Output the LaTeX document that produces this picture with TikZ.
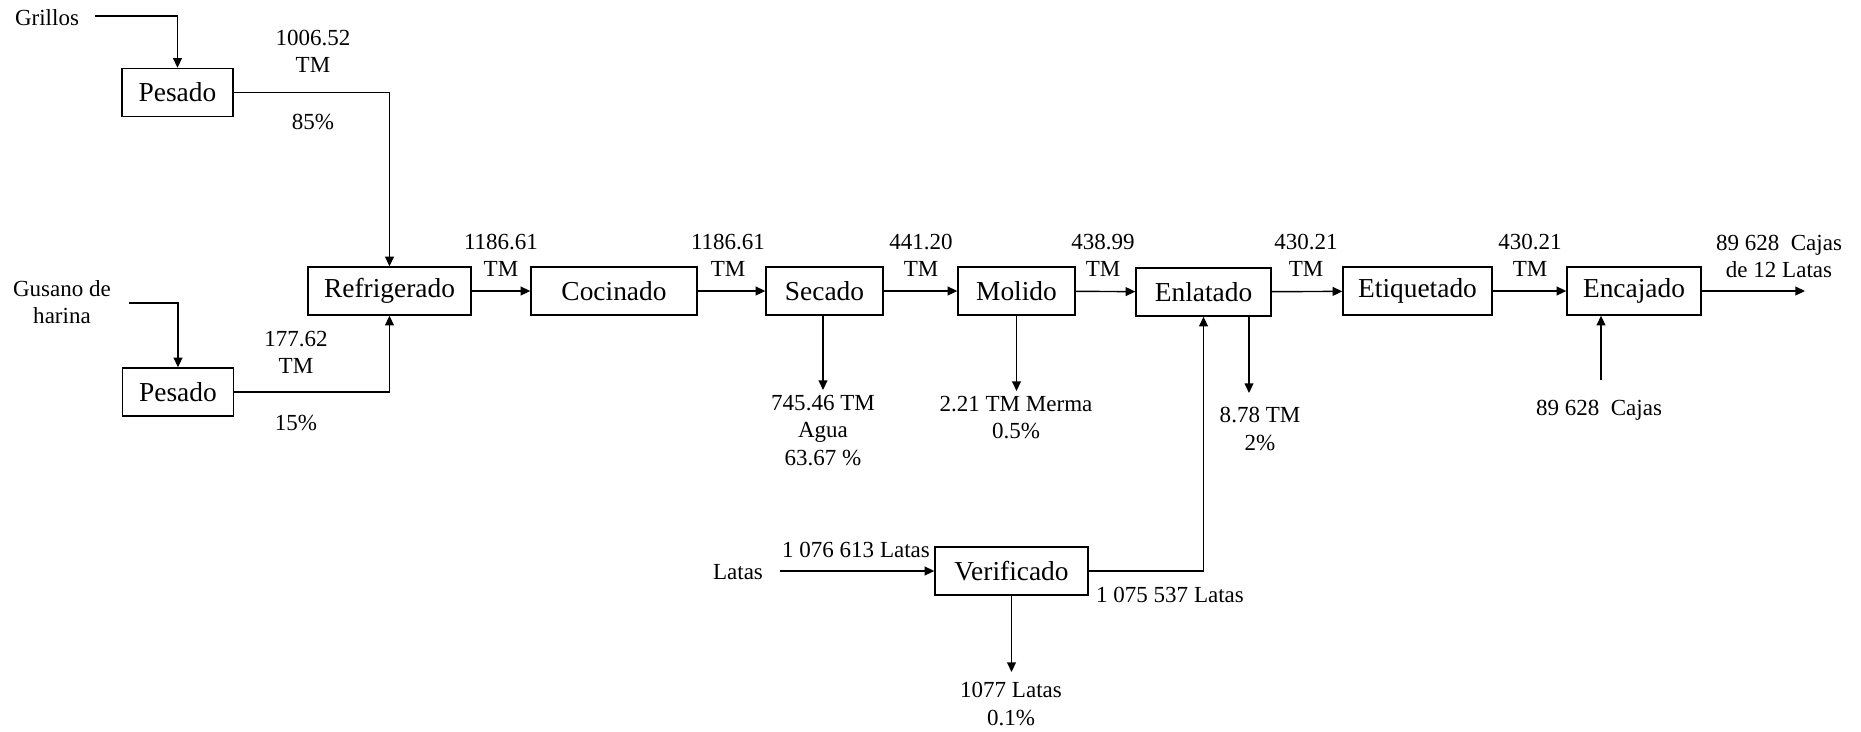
\documentclass[tikz,border=0pt]{standalone}
\usepackage{fontspec}
\setmainfont{Liberation Serif}
\usetikzlibrary{calc,arrows.meta}

\begin{document}
\begin{tikzpicture}[x=0.02cm,y=-0.02cm,
	caja/.style={draw, line width=0.8pt, minimum height=0.96cm, inner sep=2pt, font=\fontsize{15.6pt}{18pt}\selectfont},
	dato/.style={align=center, inner sep=1pt, font=\fontsize{13.1pt}{15.4pt}\selectfont},
	flecha/.style={line width=0.8pt, -{Triangle[length=5.5pt,width=5pt]}}]
			\useasboundingbox (0,0) rectangle (1861,731);
			%draw process boxes
			\node[caja, minimum width=2.22cm] (pesadoA) at (177.5,92.5) {Pesado};
			\node[caja, minimum width=2.22cm] (pesadoB) at (178,392) {Pesado};
			\node[caja, minimum width=3.26cm] (refrig) at (389.5,291) {Refrigerado};
			\node[caja, minimum width=3.32cm] (cocin) at (614,291) {Cocinado};
			\node[caja, minimum width=2.34cm] (secado) at (824.5,291) {Secado};
			\node[caja, minimum width=2.34cm] (molido) at (1016.5,291) {Molido};
			\node[caja, minimum width=2.70cm] (enlat) at (1203.5,292) {Enlatado};
			\node[caja, minimum width=2.98cm] (etiq) at (1417.5,291) {Etiquetado};
			\node[caja, minimum width=2.68cm] (encaj) at (1634,291) {Encajado};
			\node[caja, minimum width=3.06cm] (verif) at (1011.5,571) {Verificado};
			%draw inputs
			\node[dato] (grillos) at (47,18) {Grillos};
			\node[dato] (gusano) at (62,302.5) {Gusano de\\harina};
			\node[dato] (latas) at (738,572) {Latas};
			\coordinate (grillosI) at (95,16);
			\coordinate (gusanoI) at (129,303);
			\coordinate (latasI) at (780,571);
			\coordinate (cajasI) at (1601,380);
			\draw[flecha] (grillosI) -| (pesadoA);
			\draw[flecha] (gusanoI) -| (pesadoB);
			\draw[flecha] (pesadoA) -| (refrig);
			\draw[flecha] (pesadoB) -| (refrig);
			\draw[flecha] (latasI) -- (verif);
			\draw[flecha] (verif) -| (enlat);
			\draw[flecha] (cajasI) -- (cajasI |- encaj.south);
			%draw main line
			\foreach \a/\b in {refrig/cocin, cocin/secado, secado/molido, molido/enlat, enlat/etiq, etiq/encaj}{
				\draw[flecha] (\a) -- (\b);
			}
			\coordinate (salida) at (1805,291);
			\draw[flecha] (encaj) -- (salida);
			%draw outputs going down
			\coordinate (aguaF) at (823,390);
			\coordinate (mermaF) at (1016.5,391);
			\coordinate (perdF) at (1249,393);
			\coordinate (latasF) at (1011.5,672);
			\draw[flecha] (secado.south -| aguaF) -- (aguaF);
			\draw[flecha] (molido) -- (mermaF);
			\draw[flecha] (enlat.south -| perdF) -- (perdF);
			\draw[flecha] (verif) -- (latasF);
			%draw flow labels
			\node[dato] (tmA) at (313,51) {1006.52\\TM};
			\node[dato] (pctA) at (313,122) {85\%};
			\node[dato] (tmB) at (296,352) {177.62\\TM};
			\node[dato] (pctB) at (296,423) {15\%};
			\foreach \x/\v in {501/1186.61, 728/1186.61, 921/441.20, 1103/438.99, 1306/430.21, 1530/430.21}{
				\node[dato] (tm\x) at (\x,255) {\v\\TM};
			}
			\node[dato] (cajasO) at (1779,256.5) {89 628\ \ Cajas\\de 12 Latas};
			\node[dato] (cajasE) at (1599,410) {89 628\ \ Cajas};
			\node[dato] (agua) at (823,430.5) {745.46 TM\\Agua\\63.67 \%};
			\node[dato] (merma) at (1016,418) {2.21 TM Merma\\0.5\%};
			\node[dato] (perd) at (1260,429) {8.78 TM\\2\%};
			\node[dato] (latasE) at (856,550) {1 076 613 Latas};
			\node[dato] (latasS) at (1170,595) {1 075 537 Latas};
			\node[dato] (latasR) at (1011,704) {1077 Latas\\0.1\%};
\end{tikzpicture}
\end{document}
